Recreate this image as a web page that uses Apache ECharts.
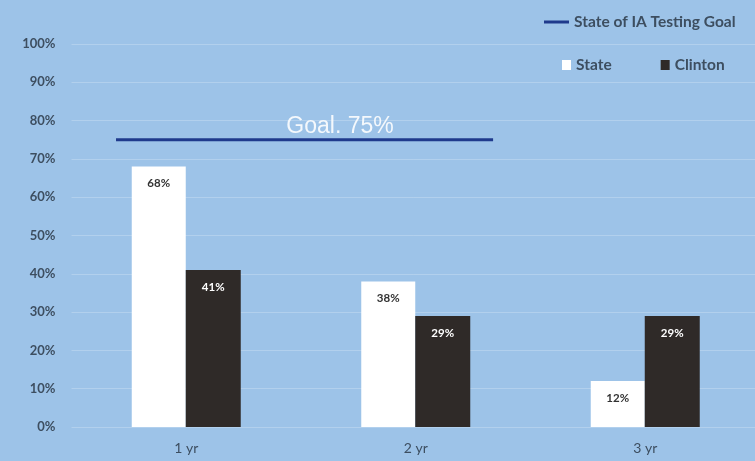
<!DOCTYPE html>
<html><head><meta charset="utf-8">
<script src="https://cdn.jsdelivr.net/npm/echarts@6/dist/echarts.min.js"></script>
<style>html,body{margin:0;padding:0;background:#9dc3e8}#c{width:755px;height:461px}</style>
</head><body><div id="c"></div>
<script>
const categories = ['1 yr', '2 yr', '3 yr'];
const stateValues = [68, 38, 12];
const clintonValues = [41, 29, 29];
const goalValue = 75;
const goalSpan = [0.194, 1.837]; // goal line extent in category units
const goalLabelPos = 1.17;
const yTicks = [0, 10, 20, 30, 40, 50, 60, 70, 80, 90, 100];

const font = 'Lato';
const chart = echarts.init(document.getElementById('c'));
chart.setOption({
  backgroundColor: '#9dc3e8',
  animation: false,
  textStyle: { fontFamily: font },
  legend: [
    { data: [{ name: 'State of IA Testing Goal', icon: 'rect' }], left: 539, top: 9, itemWidth: 25, itemHeight: 3, itemGap: 8,
      textStyle: { color: '#3d4e60', fontSize: 15.5, fontWeight: 'bold', fontFamily: font } },
    { data: ['State', 'Clinton'], icon: 'rect', left: 557, top: 52, itemWidth: 9, itemHeight: 10, itemGap: 49,
      textStyle: { color: '#3d4e60', fontSize: 15.5, fontWeight: 'bold', fontFamily: font } }
  ],
  grid: { left: 71.5, width: 688.5, top: 44, bottom: 34, outerBoundsMode: 'none', containLabel: false },
  xAxis: [
    { type: 'category', data: categories, axisLine: { show: false }, axisTick: { show: false },
      axisLabel: { color: '#3d4e60', fontSize: 14, margin: 14, fontFamily: font } },
    { type: 'value', min: 0, max: 3, show: false }
  ],
  yAxis: {
    type: 'value', min: 0, max: 100, interval: 10,
    axisLabel: { formatter: v => yTicks.includes(v) ? v + '%' : '', color: '#3d4e60', fontSize: 13, fontWeight: 'bold', margin: 16, fontFamily: font },
    axisLine: { show: false }, axisTick: { show: false },
    splitLine: { lineStyle: { color: 'rgba(255,255,255,0.22)', width: 1 } }
  },
  series: [
    { name: 'State', type: 'bar', xAxisIndex: 0, data: stateValues, barWidth: 54, barGap: '0%',
      itemStyle: { color: '#ffffff' },
      label: { show: true, position: 'insideTop', distance: 11, formatter: '{c}%', color: '#333', fontSize: 11.5, fontWeight: 'bold', fontFamily: font } },
    { name: 'Clinton', type: 'bar', xAxisIndex: 0, data: clintonValues, barWidth: 55, barGap: '0%',
      itemStyle: { color: '#2f2a28' },
      label: { show: true, position: 'insideTop', distance: 11, formatter: '{c}%', color: '#fff', fontSize: 11.5, fontWeight: 'bold', fontFamily: font } },
    { name: 'State of IA Testing Goal', type: 'line', xAxisIndex: 1, symbol: 'none',
      data: [[goalSpan[0], goalValue], [goalSpan[1], goalValue]],
      lineStyle: { color: '#1f3a8c', width: 3 }, itemStyle: { color: '#1f3a8c' },
      markPoint: { symbol: 'circle', symbolSize: 1, itemStyle: { color: 'rgba(0,0,0,0)' },
        data: [{ coord: [goalLabelPos, goalValue], name: 'Goal. ' + goalValue + '%' }],
        label: { show: true, position: 'top', distance: 1, formatter: p => p.name, color: '#f4f8fc', fontSize: 23, fontFamily: 'Liberation Sans' } } }
  ]
});
</script></body></html>
